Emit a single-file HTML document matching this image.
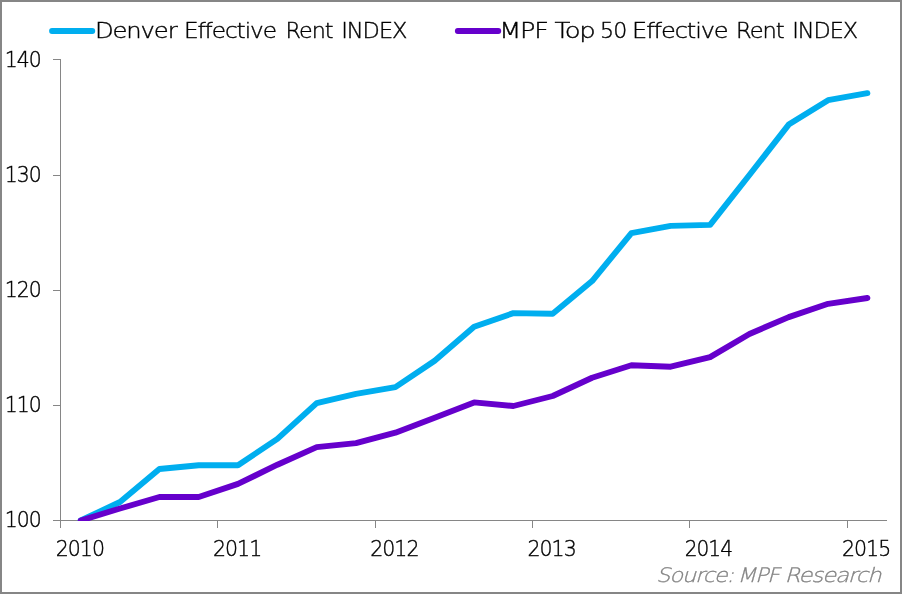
<!DOCTYPE html>
<html lang="en"><head><meta charset="utf-8"><title>Effective Rent Index</title>
<style>
html,body{margin:0;padding:0;background:#fff;}
body{width:902px;height:594px;overflow:hidden;}
svg{display:block;}
text{font-family:"DejaVu Sans Light","DejaVu Sans","Liberation Sans",sans-serif;font-weight:200;fill:#000;stroke:#000;stroke-width:0.4px;letter-spacing:-1.0px;font-variant-ligatures:none;}.src{font-style:italic;fill:#848484;stroke:#848484;stroke-width:0.3px;}
</style></head><body>
<svg width="902" height="594" viewBox="0 0 902 594">
<rect x="0" y="0" width="902" height="594" fill="#fff"/>
<rect x="1" y="1" width="900" height="592" fill="none" stroke="#868686" stroke-width="2"/>
<clipPath id="plot"><rect x="61" y="40" width="841" height="481"/></clipPath>
<g stroke="#868686" stroke-width="1" fill="none" shape-rendering="crispEdges">
<line x1="60.5" y1="59" x2="60.5" y2="528"/>
<line x1="53" y1="520.5" x2="887" y2="520.5"/>
<line x1="53" y1="59.5" x2="61" y2="59.5"/>
<line x1="53" y1="175.5" x2="61" y2="175.5"/>
<line x1="53" y1="290.5" x2="61" y2="290.5"/>
<line x1="53" y1="405.5" x2="61" y2="405.5"/>
<line x1="217.5" y1="520" x2="217.5" y2="528"/>
<line x1="375.5" y1="520" x2="375.5" y2="528"/>
<line x1="532.5" y1="520" x2="532.5" y2="528"/>
<line x1="689.5" y1="520" x2="689.5" y2="528"/>
<line x1="847.5" y1="520" x2="847.5" y2="528"/>
</g>
<g clip-path="url(#plot)" fill="none" stroke-linecap="round" stroke-linejoin="round" stroke-width="5.9">
<polyline stroke="#00AEEF" points="80.7,520.5 120.0,502.0 159.4,469.0 198.7,465.2 238.0,465.2 277.4,438.9 316.7,403.1 356.0,393.8 395.4,387.1 434.7,360.7 474.1,326.7 513.4,313.1 552.7,313.8 592.1,281.1 631.4,233.1 670.7,225.9 710.1,224.9 749.4,175.0 788.7,124.6 828.1,100.2 867.4,93.2"/>
<polyline stroke="#6600CC" points="80.7,520.5 120.0,508.5 159.4,497.0 198.7,497.0 238.0,483.9 277.4,464.7 316.7,447.1 356.0,443.1 395.4,432.7 434.7,417.8 474.1,402.4 513.4,406.0 552.7,396.0 592.1,377.8 631.4,365.3 670.7,366.7 710.1,357.1 749.4,334.0 788.7,317.1 828.1,303.8 867.4,298.0"/>
</g>
<g fill="none" stroke-linecap="round" stroke-width="5.8">
<line x1="52" y1="31" x2="92.3" y2="31" stroke="#00AEEF"/>
<line x1="457.8" y1="31" x2="498.3" y2="31" stroke="#6600CC"/>
</g>
<text x="94.90" y="37.7" font-size="21.8" textLength="81.64" lengthAdjust="spacingAndGlyphs">Denver</text>
<text x="183.90" y="37.7" font-size="21.8" textLength="92.05" lengthAdjust="spacingAndGlyphs">Effective</text>
<text x="285.60" y="37.7" font-size="21.8" textLength="46.85" lengthAdjust="spacingAndGlyphs">Rent</text>
<text x="341.20" y="37.7" font-size="21.8" textLength="65.28" lengthAdjust="spacingAndGlyphs">INDEX</text>
<text x="499.20" y="37.7" font-size="21.8" textLength="48.55" lengthAdjust="spacingAndGlyphs">MPF</text>
<text x="554.40" y="37.7" font-size="21.8" textLength="40.21" lengthAdjust="spacingAndGlyphs">Top</text>
<text x="600.10" y="37.7" font-size="21.8" textLength="26.08" lengthAdjust="spacingAndGlyphs">50</text>
<text x="632.10" y="37.7" font-size="21.8" textLength="95.49" lengthAdjust="spacingAndGlyphs">Effective</text>
<text x="736.10" y="37.7" font-size="21.8" textLength="47.48" lengthAdjust="spacingAndGlyphs">Rent</text>
<text x="792.20" y="37.7" font-size="21.8" textLength="64.90" lengthAdjust="spacingAndGlyphs">INDEX</text>
<text x="4.65" y="66.8" font-size="21.8" textLength="36.08" lengthAdjust="spacingAndGlyphs">140</text>
<text x="4.65" y="181.8" font-size="21.8" textLength="36.08" lengthAdjust="spacingAndGlyphs">130</text>
<text x="4.65" y="296.8" font-size="21.8" textLength="36.08" lengthAdjust="spacingAndGlyphs">120</text>
<text x="4.65" y="411.8" font-size="21.8" textLength="36.08" lengthAdjust="spacingAndGlyphs">110</text>
<text x="4.65" y="526.8" font-size="21.8" textLength="36.08" lengthAdjust="spacingAndGlyphs">100</text>
<text x="55.65" y="555.8" font-size="21.8" textLength="48.47" lengthAdjust="spacingAndGlyphs">2010</text>
<text x="212.90" y="555.8" font-size="21.8" textLength="48.47" lengthAdjust="spacingAndGlyphs">2011</text>
<text x="370.15" y="555.8" font-size="21.8" textLength="48.47" lengthAdjust="spacingAndGlyphs">2012</text>
<text x="527.40" y="555.8" font-size="21.8" textLength="48.47" lengthAdjust="spacingAndGlyphs">2013</text>
<text x="684.65" y="555.8" font-size="21.8" textLength="47.44" lengthAdjust="spacingAndGlyphs">2014</text>
<text x="841.90" y="555.8" font-size="21.8" textLength="48.47" lengthAdjust="spacingAndGlyphs">2015</text>
<text x="656.00" y="581.9" font-size="19.9" textLength="77.03" lengthAdjust="spacingAndGlyphs" class="src">Source:</text>
<text x="737.20" y="581.9" font-size="19.9" textLength="41.42" lengthAdjust="spacingAndGlyphs" class="src">MPF</text>
<text x="784.50" y="581.9" font-size="19.9" textLength="95.84" lengthAdjust="spacingAndGlyphs" class="src">Research</text>
</svg>
</body></html>
